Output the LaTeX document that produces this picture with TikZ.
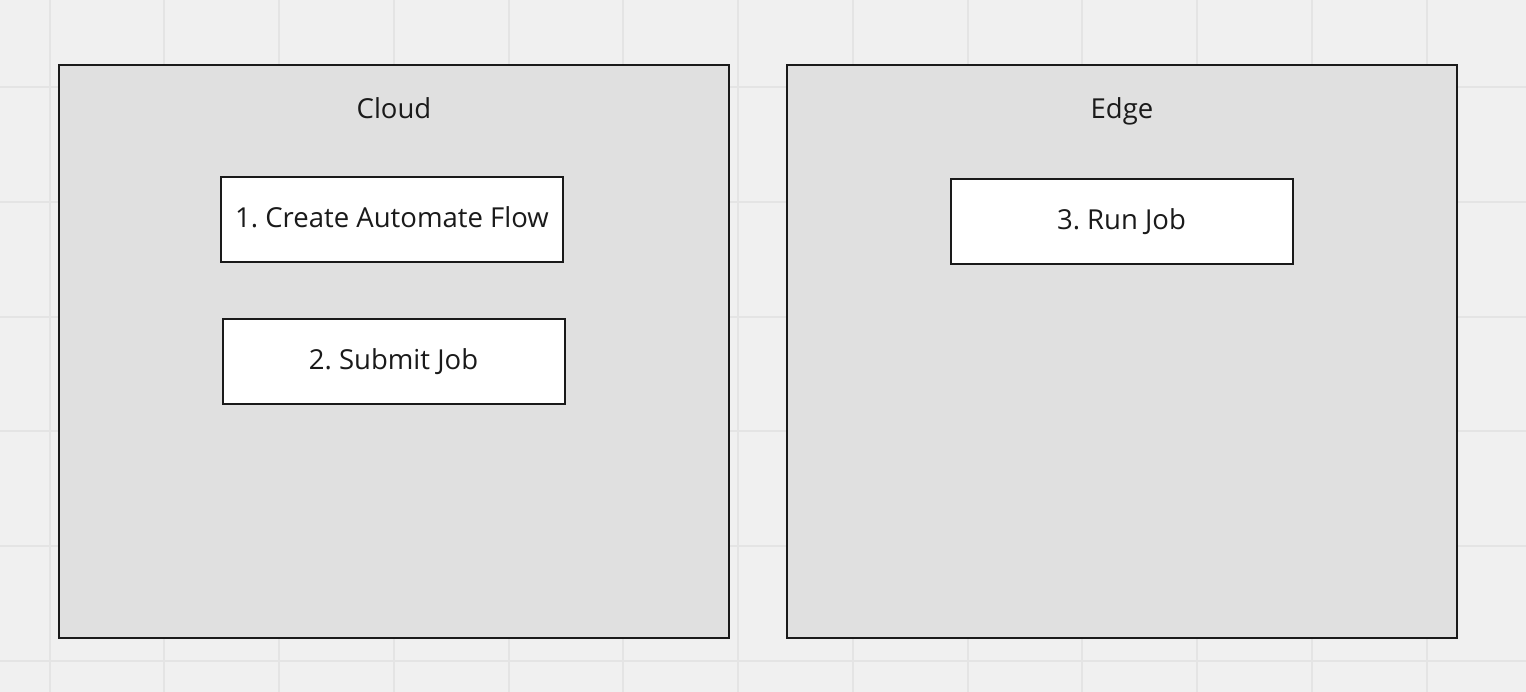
\documentclass[tikz,border=0pt]{standalone}
\usepackage{fontspec}
\setmainfont{Open Sans}
\usetikzlibrary{positioning}

\definecolor{boardbg}{HTML}{F0F0F0}
\definecolor{gridcol}{HTML}{E4E4E4}
\definecolor{panelbg}{HTML}{E0E0E0}
\definecolor{inkcol}{HTML}{1A1A1A}

\begin{document}
\frenchspacing
\begin{tikzpicture}[x=1pt, y=-1pt,
      every node/.style={text=inkcol, font=\fontsize{27.5}{32}\selectfont,
          text height=20pt, text depth=7pt},
      gridline/.style={draw=gridcol, line width=2pt},
      panel/.style={draw=inkcol, fill=panelbg, line width=2.5pt,
          minimum width=670pt, minimum height=573pt, inner sep=0pt},
      stepbox/.style={draw=inkcol, fill=white, line width=2pt, text depth=4pt,
          minimum width=342pt, minimum height=85pt, inner sep=0pt},]
  %.
  \useasboundingbox[fill=boardbg] (0,0) rectangle (1526,692);
  \foreach \gx in {0,...,12}
      \draw[gridline] (49.5+114.75*\gx,0) -- (49.5+114.75*\gx,692);
  \foreach \gy in {0,...,5}
      \draw[gridline] (0,87.2+114.75*\gy) -- (1526,87.2+114.75*\gy);
  %.
  \node[panel, text height=, text depth=] (cloud) at (394,351.5) {};
  \node[panel, text height=, text depth=] (edge) at (1122,351.5) {};
  \node (cloudtitle) at (394,111.8) {Cloud};
  \node (edgetitle) at (1122,111.8) {Edge};
  %.
  \node[stepbox] (create) at (392,219.5) {1. Create Automate Flow};
  \node[stepbox] (submit) at (393.5,361.5) {2. Submit Job};
  \node[stepbox] (runjob) at (1121.5,221.5) {3. Run Job};
  %.
\end{tikzpicture}
\end{document}
